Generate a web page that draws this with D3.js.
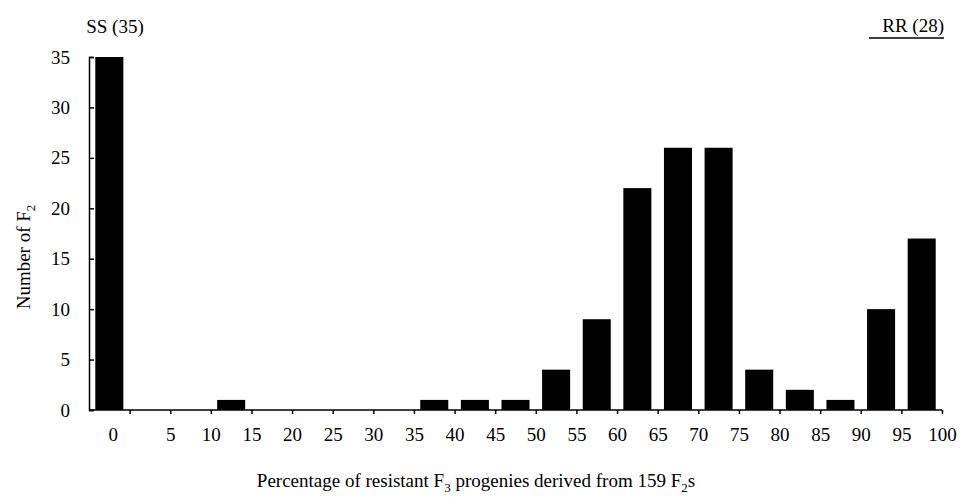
<!DOCTYPE html>
<html>
<head>
<meta charset="utf-8">
<script src="https://cdn.jsdelivr.net/npm/d3@7"></script>
<style>
  body { margin: 0; background: #fff; }
  svg text { font-family: "Liberation Serif", "DejaVu Serif", serif !important; fill: #000; }
</style>
</head>
<body>
<svg id="chart"></svg>
<script>
// classes of % resistant F3 progenies (first one = 0 exactly)
const categories = ["0", "0-5", "5-10", "10-15", "15-20", "20-25", "25-30", "30-35", "35-40", "40-45",
  "45-50", "50-55", "55-60", "60-65", "65-70", "70-75", "75-80", "80-85", "85-90", "90-95", "95-100"];
const counts = [35, 0, 0, 1, 0, 0, 0, 0, 1, 1, 1, 4, 9, 22, 26, 26, 4, 2, 1, 10, 17];
const pctTicks = [0, 5, 10, 15, 20, 25, 30, 35, 40, 45, 50, 55, 60, 65, 70, 75, 80, 85, 90, 95, 100];
const yTicks = [0, 5, 10, 15, 20, 25, 30, 35];

const W = 966, H = 497;
const plotLeft = 89, plotRight = 942, plotTop = 57, plotBottom = 410;
const fs = "19px";

var svg = d3.select("#chart").attr("width", W).attr("height", H);

var x = d3.scaleBand()
  .domain(categories)
  .range([plotLeft, plotRight])
  .paddingInner(0.31)
  .paddingOuter(0.155);

var y = d3.scaleLinear().domain([0, 35]).range([plotBottom, plotTop]);

// percent scale for the tick marks between classes
var pct = d3.scaleLinear()
  .domain([0, 100])
  .range([plotLeft + x.step(), plotRight]);

// bars
svg.append("g").selectAll("rect")
  .data(counts)
  .enter()
  .append("rect")
  .attr("x", function (d, i) { return x(categories[i]); })
  .attr("y", function (d) { return y(d); })
  .attr("width", x.bandwidth())
  .attr("height", function (d) { return plotBottom - y(d); })
  .attr("fill", "#000");

// y axis, ticks pointing inward
var yaxis = svg.append("g")
  .attr("transform", "translate(" + plotLeft + ",0)")
  .call(d3.axisLeft(y).tickValues(yTicks).tickSize(-5).tickPadding(19));
yaxis.attr("font-family", null).attr("font-size", fs);
yaxis.select(".domain").attr("stroke-width", 1.5);
yaxis.selectAll(".tick line").attr("stroke-width", 1.5);

// x axis
var xaxis = svg.append("g")
  .attr("transform", "translate(0," + plotBottom + ")")
  .call(d3.axisBottom(pct).tickValues(pctTicks).tickSize(4).tickPadding(14)
    .tickFormat(function (d) { return d === 0 ? "" : d; }));
xaxis.attr("font-family", null).attr("font-size", fs);
xaxis.select(".domain").remove();
xaxis.selectAll(".tick line").attr("stroke-width", 1.5);
xaxis.append("line")
  .attr("x1", plotLeft).attr("x2", plotRight)
  .attr("stroke", "#000").attr("stroke-width", 1.5);
// label for the "0" class sits under its bar
xaxis.append("text")
  .attr("x", x("0") + x.bandwidth() / 2 + 4)
  .attr("y", 18)
  .attr("dy", "0.71em")
  .attr("text-anchor", "middle")
  .text("0");

// axis titles
var xt = svg.append("text")
  .attr("x", 476)
  .attr("y", 487)
  .attr("text-anchor", "middle")
  .style("font-size", fs);
xt.append("tspan").text("Percentage of resistant F");
xt.append("tspan").attr("dy", 5).style("font-size", "13px").text("3");
xt.append("tspan").attr("dy", -5).text(" progenies derived from 159 F");
xt.append("tspan").attr("dy", 5).style("font-size", "13px").text("2");
xt.append("tspan").attr("dy", -5).text("s");

var yt = svg.append("text")
  .attr("transform", "translate(30,257) rotate(-90)")
  .attr("text-anchor", "middle")
  .style("font-size", fs);
yt.append("tspan").text("Number of F");
yt.append("tspan").attr("dy", 5).style("font-size", "13px").text("2");

// class annotations
svg.append("text")
  .attr("x", 115).attr("y", 33)
  .attr("text-anchor", "middle")
  .style("font-size", fs)
  .text("SS (35)");

svg.append("text")
  .attr("x", 944).attr("y", 32)
  .attr("text-anchor", "end")
  .style("font-size", fs)
  .text("RR (28)");
svg.append("line")
  .attr("x1", 869).attr("x2", 944)
  .attr("y1", 38).attr("y2", 38)
  .attr("stroke", "#000").attr("stroke-width", 1.5);
</script>
</body>
</html>
